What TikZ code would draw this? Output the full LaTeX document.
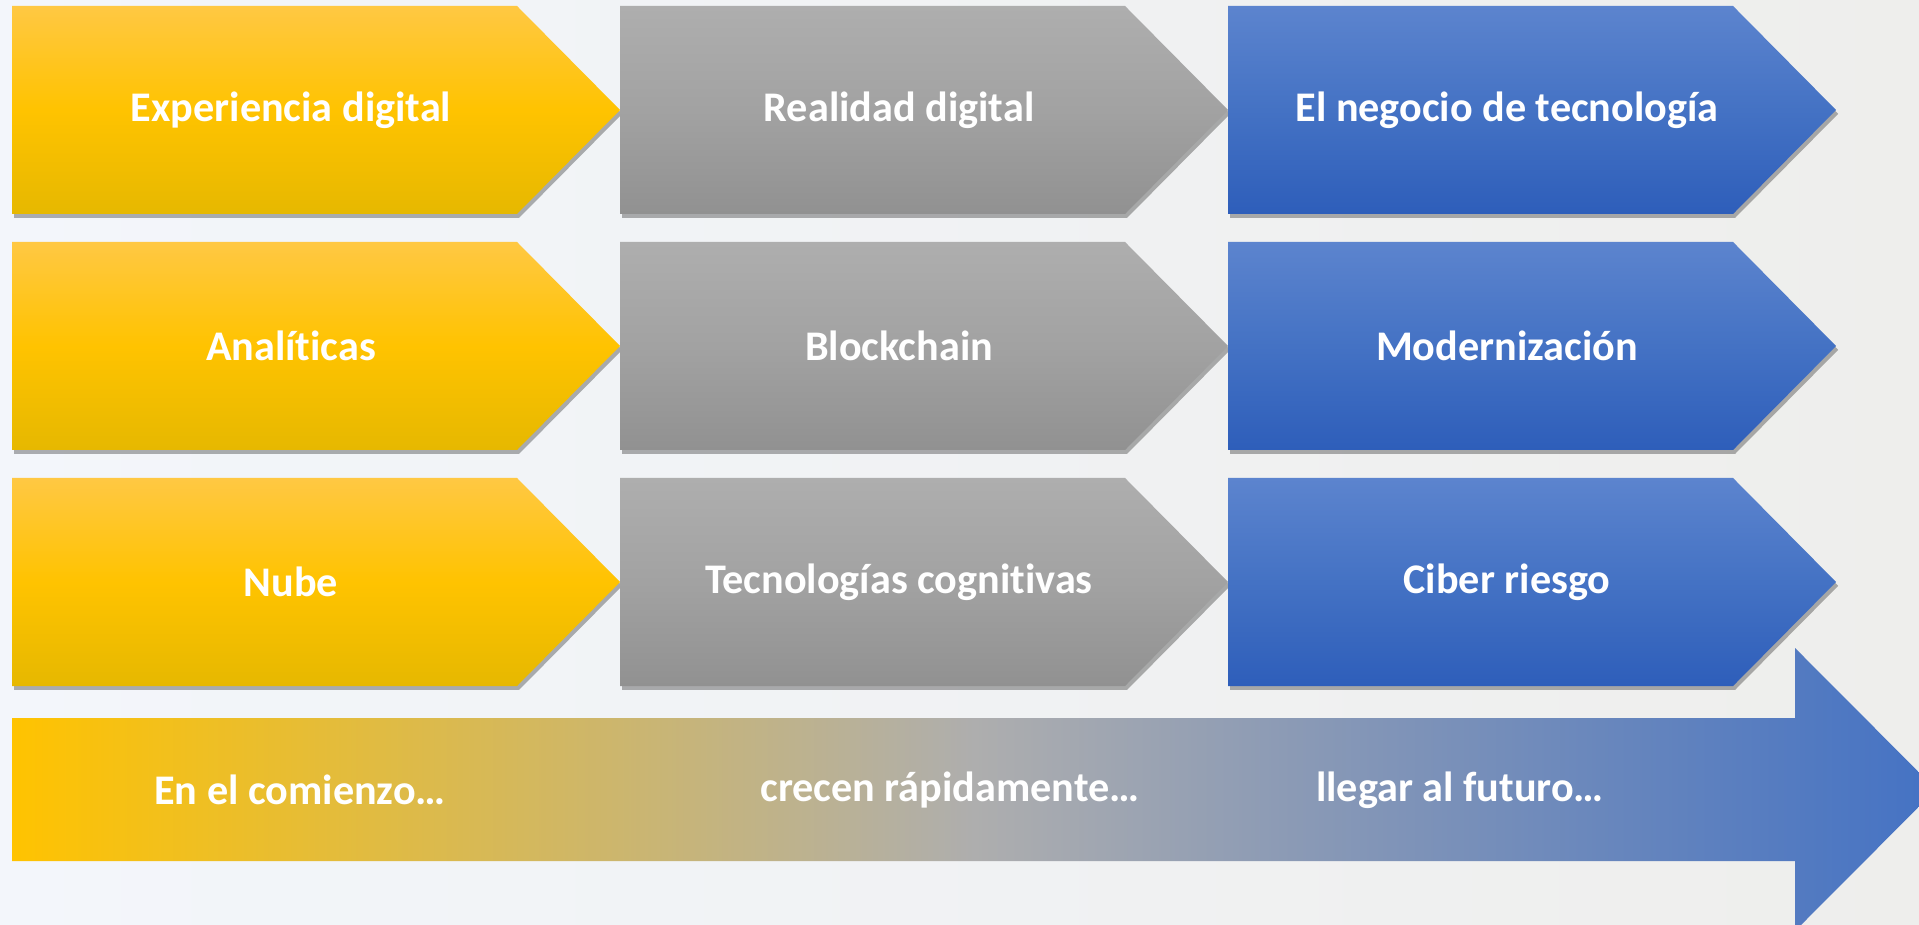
\documentclass[tikz,border=0pt]{standalone}
\usepackage{fontspec}
\setmainfont{Carlito}[Ligatures=NoCommon]
\usetikzlibrary{shadows}

\definecolor{fondoA}{HTML}{F3F6FB}
\definecolor{fondoB}{HTML}{EEEEEC}
\definecolor{amarilloA}{HTML}{FFC843}
\definecolor{amarillo}{HTML}{FFC300}
\definecolor{amarilloC}{HTML}{E6B800}
\definecolor{grisA}{HTML}{AEAEAE}
\definecolor{gris}{HTML}{A2A2A2}
\definecolor{grisC}{HTML}{919191}
\definecolor{azulA}{HTML}{5C84CE}
\definecolor{azul}{HTML}{4472C4}
\definecolor{azulC}{HTML}{2E5EBA}

\begin{document}
\begin{tikzpicture}[x=0.01cm, y=-0.01cm,
        etiqueta/.style={text=white, font=\bfseries\fontsize{12}{14}\selectfont},
        sombra/.style={drop shadow={shadow xshift=0.6pt, shadow yshift=-1.1pt, opacity=0.3, fill=black}},
        amarilla/.style={sombra, top color=amarilloA, bottom color=amarilloC, middle color=amarillo},
        grisacea/.style={sombra, top color=grisA, bottom color=grisC, middle color=gris},
        azulada/.style={sombra, top color=azulA, bottom color=azulC, middle color=azul},
        flecha/.style={left color=amarillo, right color=azul, middle color=grisA}]
        \useasboundingbox (0,0) rectangle (1919,925);
        \fill[left color=fondoA, right color=fondoB] (0,0) rectangle (1919,925);

        % tres columnas de pentagonos
        \foreach \x/\estilo in {12/amarilla, 620/grisacea, 1228/azulada}
            \foreach \y in {6, 242, 478}
                \path[\estilo] (\x,\y) -- ++(505,0) -- ++(103,104)
                    -- ++(-103,104) -- ++(-505,0) -- cycle;

        \node[etiqueta] (experiencia) at (291,110) {Experiencia digital};
        \node[etiqueta] (analiticas) at (291,346) {Analíticas};
        \node[etiqueta] (nube) at (291,582) {Nube};
        \node[etiqueta] (realidad) at (899,110) {Realidad digital};
        \node[etiqueta] (blockchain) at (899,346) {Blockchain};
        \node[etiqueta] (cognitivas) at (899,582) {Tecnologías cognitivas};
        \node[etiqueta] (negocio) at (1507,110) {El negocio de tecnología};
        \node[etiqueta] (modernizacion) at (1507,346) {Modernización};
        \node[etiqueta] (ciber) at (1507,582) {Ciber riesgo};

        % flecha grande
        \path[flecha] (12,718) -- (1795,718) -- (1795,648) -- (1936,789.5)
            -- (1795,931) -- (1795,861) -- (12,861) -- cycle;
        \node[etiqueta] (comienzo) at (300,790) {En el comienzo…};
        \node[etiqueta] (crecen) at (950,790) {crecen rápidamente…};
        \node[etiqueta] (futuro) at (1460,790) {llegar al futuro…};
\end{tikzpicture}
\end{document}
